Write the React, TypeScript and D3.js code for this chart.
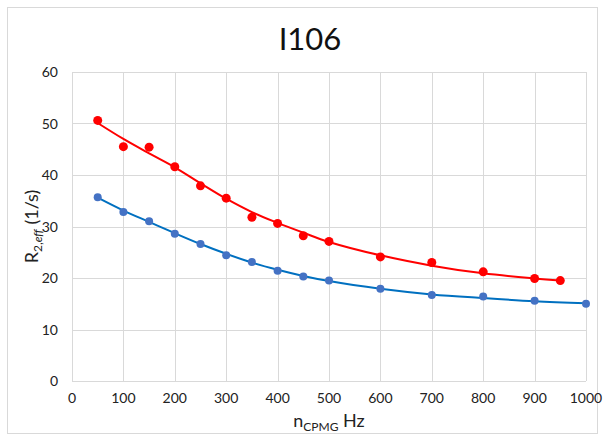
import React from "react";
import * as d3 from "d3";

const title = "I106";
const redX = [50, 100, 150, 200, 250, 300, 350, 400, 450, 500, 600, 700, 800, 900, 950];
const redY = [50.6, 45.5, 45.4, 41.6, 37.9, 35.5, 31.8, 30.6, 28.2, 27.1, 24.1, 23.0, 21.2, 19.9, 19.5];
const redFit = [50.1, 47.0, 44.2, 41.5, 38.4, 35.4, 32.8, 30.7, 28.8, 27.0, 24.4, 22.4, 20.9, 19.9, 19.5];
const blueX = [50, 100, 150, 200, 250, 300, 350, 400, 450, 500, 600, 700, 800, 900, 1000];
const blueY = [35.7, 32.8, 31.0, 28.6, 26.6, 24.4, 23.1, 21.4, 20.3, 19.5, 17.9, 16.7, 16.4, 15.6, 15.0];
const blueFit = [35.6, 33.1, 30.9, 28.7, 26.6, 24.7, 23.0, 21.6, 20.4, 19.4, 17.9, 16.8, 16.1, 15.5, 15.1];
const xTicks = [0, 100, 200, 300, 400, 500, 600, 700, 800, 900, 1000];
const yTicks = [0, 10, 20, 30, 40, 50, 60];

const W = 605;
const H = 442;
const M = { left: 72, right: 586, top: 72, bottom: 381 };
const FONT = "Lato, 'Open Sans', sans-serif";

export default function App() {
  const x = d3.scaleLinear().domain([0, 1000]).range([M.left, M.right]);
  const y = d3.scaleLinear().domain([0, 60]).range([M.bottom, M.top]);
  const line = d3
    .line<[number, number]>()
    .x((d) => x(d[0]))
    .y((d) => y(d[1]))
    .curve(d3.curveCatmullRom.alpha(0.5));
  const redPath = line(redX.map((v, i) => [v, redFit[i]] as [number, number])) || "";
  const bluePath = line(blueX.map((v, i) => [v, blueFit[i]] as [number, number])) || "";
  const grid = "#d9d9d9";
  return (
    <div style={{ position: "absolute", left: 0, top: 0 }}>
      <svg width={W} height={H} style={{ display: "block", fontFamily: FONT }}>
        <rect x={0} y={0} width={W} height={H} fill="#fff" />
        <rect x={7.5} y={7.5} width={590} height={426} fill="none" stroke={grid} strokeWidth={1} />
        <text x={(M.left + M.right) / 2 - 19} y={50} fontSize={31} textAnchor="middle" fill="#111">
          {title}
        </text>
        {yTicks.map((t) => (
          <g key={"y" + t}>
            <line x1={M.left} x2={M.right} y1={Math.round(y(t)) + 0.5} y2={Math.round(y(t)) + 0.5} stroke={grid} />
            <text x={58} y={y(t) + 5} fontSize={14} textAnchor="end" fill="#222">
              {t}
            </text>
          </g>
        ))}
        {xTicks.map((t) => (
          <g key={"x" + t}>
            <line x1={Math.round(x(t)) + 0.5} x2={Math.round(x(t)) + 0.5} y1={M.top} y2={M.bottom} stroke={grid} />
            <text x={x(t)} y={403} fontSize={14} textAnchor="middle" fill="#222">
              {t}
            </text>
          </g>
        ))}
        <path d={bluePath} fill="none" stroke="#0070C0" strokeWidth={2} />
        <path d={redPath} fill="none" stroke="#FF0000" strokeWidth={2} />
        {blueX.map((v, i) => (
          <circle key={"b" + i} cx={x(v)} cy={y(blueY[i])} r={4} fill="#4472C4" />
        ))}
        {redX.map((v, i) => (
          <circle key={"r" + i} cx={x(v)} cy={y(redY[i])} r={4.5} fill="#FF0000" />
        ))}
        <text
          transform={`translate(38, ${(M.top + M.bottom) / 2}) rotate(-90)`}
          fontSize={18}
          textAnchor="middle"
          fill="#222"
        >
          R<tspan fontSize={12} dy={4}>2,</tspan>
          <tspan fontSize={12} fontStyle="italic">eff</tspan>
          <tspan dy={-4}> (1/s)</tspan>
        </text>
        <text x={(M.left + M.right) / 2} y={427} fontSize={18} textAnchor="middle" fill="#222">
          n<tspan fontSize={12} dy={4}>CPMG</tspan>
          <tspan dy={-4}> Hz</tspan>
        </text>
      </svg>
    </div>
  );
}
